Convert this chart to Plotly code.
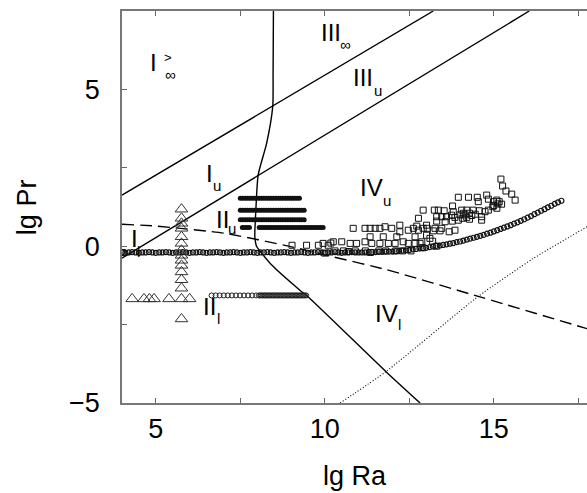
import plotly.graph_objects as go

# ---------------- axis ticks ----------------
ra_tick_vals = [5, 7.5, 10, 12.5, 15, 17.5]
ra_tick_text = ["5", "", "10", "", "15", ""]
pr_tick_vals = [-5, -2.5, 0, 2.5, 5, 7.5]
pr_tick_text = ["\u22125", "", "0", "", "5", ""]

# ---------------- theory lines ----------------
upper_ra = [4.0, 13.21]
upper_pr = [1.63, 7.5]
lower_ra = [4.0, 16.05]
lower_pr = [-0.38, 7.5]
dashed_ra = [4.0, 5.03, 7.05, 9.02, 10.25, 11.83, 14.54, 17.76]
dashed_pr = [0.70, 0.64, 0.41, -0.02, -0.34, -0.75, -1.60, -2.63]
dotted_ra = [10.45, 11.81, 14.54, 16.17, 17.76]
dotted_pr = [-5.0, -4.0, -1.60, -0.39, 0.62]
curve_ra = [8.48, 8.47, 8.46, 8.28, 8.03, 7.96, 7.93, 7.98, 8.08, 8.43, 9.27, 9.51, 11.81, 12.82]
curve_pr = [7.5, 5.5, 4.46, 3.29, 2.28, 1.15, 0.30, 0.0, -0.15, -0.6, -1.41, -1.62, -4.0, -5.0]

# ---------------- data: triangles ----------------
tri_ra = [5.76, 5.76, 5.76, 5.76, 5.76, 5.76, 5.76, 5.76, 5.76, 5.76, 5.76, 5.76, 5.76, 5.76, 5.76,
          4.30, 4.65, 4.81, 4.95, 5.39, 6.00]
tri_pr = [1.18, 0.89, 0.73, 0.57, 0.30, 0.09, -0.13, -0.29, -0.45, -0.61, -0.82, -1.07, -1.34, -1.68, -2.32,
          -1.68, -1.68, -1.68, -1.68, -1.68, -1.68]

# ---------------- data: filled-dot rows ----------------
row1_ra = [7.50, 7.57, 7.64, 7.71, 7.78, 7.85, 7.92, 7.99, 8.06, 8.13, 8.20, 8.27, 8.34, 8.41,
           8.48, 8.55, 8.62, 8.69, 8.76, 8.83, 8.90, 8.97, 9.04, 9.11, 9.18, 9.25]
row1_pr = [1.53, 1.53, 1.53, 1.53, 1.53, 1.53, 1.53, 1.53, 1.53, 1.53, 1.53, 1.53, 1.53,
           1.53, 1.53, 1.53, 1.53, 1.53, 1.53, 1.53, 1.53, 1.53, 1.53, 1.53, 1.53, 1.53]
row2_ra = [7.50, 7.57, 7.64, 7.71, 7.78, 7.85, 7.92, 7.99, 8.06, 8.13, 8.20, 8.27, 8.34, 8.41,
           8.48, 8.55, 8.62, 8.69, 8.76, 8.83, 8.90, 8.97, 9.04, 9.11, 9.18, 9.25, 9.32, 9.39]
row2_pr = [1.15, 1.15, 1.15, 1.15, 1.15, 1.15, 1.15, 1.15, 1.15, 1.15, 1.15, 1.15, 1.15, 1.15,
           1.15, 1.15, 1.15, 1.15, 1.15, 1.15, 1.15, 1.15, 1.15, 1.15, 1.15, 1.15, 1.15, 1.15]
row3_ra = [7.50, 7.57, 7.64, 7.71, 7.78, 7.85, 7.92, 7.99, 8.06, 8.13, 8.20, 8.27, 8.34, 8.41,
           8.48, 8.55, 8.62, 8.69, 8.76, 8.83, 8.90, 8.97, 9.04, 9.11, 9.18, 9.25, 9.32, 9.39]
row3_pr = [0.84, 0.84, 0.84, 0.84, 0.84, 0.84, 0.84, 0.84, 0.84, 0.84, 0.84, 0.84, 0.84, 0.84,
           0.84, 0.84, 0.84, 0.84, 0.84, 0.84, 0.84, 0.84, 0.84, 0.84, 0.84, 0.84, 0.84, 0.84]
row4_ra = [7.56, 7.63, 7.70, 7.77, 8.06, 8.13, 8.20, 8.27, 8.34, 8.41, 8.48, 8.55, 8.62, 8.69,
           8.76, 8.83, 8.90, 8.97, 9.04, 9.11, 9.18, 9.25, 9.32, 9.39, 9.46, 9.53, 9.60, 9.67,
           9.74, 9.81, 9.88, 9.95]
row4_pr = [0.60, 0.60, 0.60, 0.60, 0.60, 0.60, 0.60, 0.60, 0.60, 0.60, 0.60, 0.60, 0.60, 0.60,
           0.60, 0.60, 0.60, 0.60, 0.60, 0.60, 0.60, 0.60, 0.60, 0.60, 0.60, 0.60, 0.60, 0.60,
           0.60, 0.60, 0.60, 0.60]

# ---------------- data: open-circle row at lg Pr ~ -1.6 ----------------
low_ra = [6.65, 6.77, 6.89, 7.01, 7.13, 7.25, 7.37, 7.49, 7.61, 7.73, 7.85, 7.97, 8.05, 8.13,
          8.21, 8.29, 8.37, 8.45, 8.53, 8.61, 8.69, 8.77, 8.85, 8.93, 9.01, 9.09, 9.17, 9.25,
          9.33, 9.41, 8.09, 8.17, 8.25, 8.33, 8.41, 8.49, 8.57, 8.65, 8.73, 8.81, 8.89, 8.97,
          9.05, 9.13, 9.21, 9.29, 9.37, 9.45]
low_pr = [-1.57, -1.57, -1.57, -1.57, -1.57, -1.57, -1.57, -1.57, -1.57, -1.57, -1.57, -1.57,
          -1.57, -1.57, -1.57, -1.57, -1.57, -1.57, -1.57, -1.57, -1.57, -1.57, -1.57, -1.57,
          -1.57, -1.57, -1.57, -1.57, -1.57, -1.57, -1.57, -1.57, -1.57, -1.57, -1.57, -1.57,
          -1.57, -1.57, -1.57, -1.57, -1.57, -1.57, -1.57, -1.57, -1.57, -1.57, -1.57, -1.57]

# ---------------- data: open-circle chain ----------------
chain_ra = [4.0, 4.1, 4.2, 4.3, 4.4, 4.5, 4.6, 4.7, 4.8, 4.9, 5.0, 5.1, 5.2, 5.3, 5.4, 5.5, 5.6,
            5.7, 5.8, 5.9, 6.0, 6.1, 6.2, 6.3, 6.4, 6.5, 6.6, 6.7, 6.8, 6.9, 7.0, 7.1, 7.2, 7.3,
            7.4, 7.5, 7.6, 7.7, 7.8, 7.9, 8.0, 8.1, 8.2, 8.3, 8.4, 8.5, 8.6, 8.7, 8.8, 8.9, 9.0,
            9.1, 9.2, 9.3, 9.4, 9.5, 9.6, 9.7, 9.8, 9.9, 10.0, 10.1, 10.2, 10.3, 10.4, 10.5, 10.6,
            10.7, 10.8, 10.9, 11.0,
            11.1, 11.2, 11.3, 11.4, 11.5, 11.6, 11.7, 11.8, 11.9, 12.0, 12.1, 12.2, 12.3, 12.4,
            12.5, 12.6, 12.7, 12.8, 12.9, 13.0, 13.1, 13.2, 13.3, 13.4, 13.5, 13.6, 13.7, 13.8,
            13.9, 14.0, 14.1, 14.2, 14.3, 14.4, 14.5, 14.6, 14.7, 14.8, 14.9, 15.0, 15.1, 15.2,
            15.3, 15.4, 15.5, 15.6, 15.7, 15.8, 15.9, 16.0, 16.1, 16.2, 16.3, 16.4, 16.5, 16.6,
            16.7, 16.8, 16.9, 17.0]
chain_pr = [-0.20, -0.21, -0.20, -0.19, -0.20, -0.21, -0.20, -0.20, -0.19, -0.20, -0.21, -0.20,
            -0.20, -0.19, -0.20, -0.21, -0.20, -0.20, -0.19, -0.20, -0.21, -0.20, -0.20, -0.19,
            -0.20, -0.21, -0.20, -0.20, -0.19, -0.20, -0.21, -0.20, -0.20, -0.19, -0.20, -0.21,
            -0.20, -0.20, -0.19, -0.20, -0.21, -0.20, -0.20, -0.19, -0.20, -0.21, -0.20, -0.20,
            -0.19, -0.20, -0.21, -0.20, -0.20, -0.19, -0.20, -0.21, -0.20, -0.20, -0.19, -0.20,
            -0.21, -0.20, -0.20, -0.19, -0.20, -0.21, -0.20, -0.20, -0.19, -0.20, -0.20,
            -0.20, -0.20, -0.19, -0.19, -0.19, -0.18, -0.18, -0.17, -0.17, -0.17, -0.16, -0.15,
            -0.14, -0.13, -0.12, -0.10, -0.09, -0.07, -0.06, -0.05, -0.03, -0.01, 0.01, 0.02,
            0.04, 0.06, 0.08, 0.10, 0.13, 0.15, 0.18, 0.21, 0.24, 0.27, 0.30, 0.33, 0.36, 0.40,
            0.43, 0.47, 0.51, 0.55, 0.59, 0.63, 0.67, 0.72, 0.76, 0.81, 0.86, 0.91, 0.96, 1.02,
            1.07, 1.13, 1.18, 1.24, 1.29, 1.35, 1.40, 1.45]

# ---------------- data: open squares ----------------
sq_ra = [15.21, 15.26, 15.36, 15.53, 15.63, 13.95, 14.25, 14.51, 14.54, 14.79, 14.84, 14.99, 15.09,
         15.16, 15.23, 14.97, 15.09, 14.84, 14.74, 12.91, 13.24, 13.36, 13.53, 13.78, 13.80, 14.05,
         14.10, 14.20, 14.28, 14.39, 14.57, 13.31, 13.46, 13.60, 13.75, 13.31, 13.56, 13.77, 13.85,
         13.95, 14.08, 14.20, 14.28, 14.64, 14.64, 12.91, 13.03, 13.21, 13.26, 13.41, 13.46, 13.68,
         13.85, 12.87, 13.11, 13.19, 12.77, 13.01, 10.84, 11.19, 11.34, 11.49, 11.63, 11.78, 11.98,
         12.22, 12.22, 12.47, 12.62, 12.72, 12.77, 11.34, 11.73, 12.13, 12.67, 13.01, 10.25, 10.50,
         10.75, 10.94, 11.19, 11.39, 11.63, 11.88, 12.08, 12.32, 12.47, 12.67, 12.82, 10.10, 9.95,
         9.03, 9.46, 9.81, 10.18, 10.00, 10.30, 10.55, 10.70, 10.90, 11.20, 11.35, 11.60, 11.80,
         12.10, 12.30, 12.55, 12.90, 13.30, 14.00, 14.15, 14.35, 14.45, 15.00, 15.12, 4.02]
sq_pr = [2.14, 1.92, 1.76, 1.66, 1.47, 1.56, 1.56, 1.56, 1.42, 1.63, 1.50, 1.42, 1.47,
         1.42, 1.34, 1.26, 1.21, 1.15, 1.10, 1.15, 1.15, 1.15, 1.13, 1.28, 1.10, 1.15,
         1.05, 1.15, 1.05, 1.15, 1.13, 0.94, 0.94, 0.94, 0.99, 0.80, 0.78, 0.80, 0.92,
         0.83, 0.89, 0.92, 0.86, 0.94, 0.83, 0.57, 0.57, 0.49, 0.57, 0.49, 0.57, 0.46,
         0.51, 0.14, 0.25, 0.16, 0.89, 0.67, 0.57, 0.57, 0.57, 0.57, 0.57, 0.62, 0.57,
         0.67, 0.46, 0.51, 0.57, 0.64, 0.51, 0.30, 0.30, 0.30, 0.30, 0.35, 0.14, 0.14,
         0.09, 0.09, 0.14, 0.09, 0.09, 0.09, 0.09, 0.14, 0.09, 0.09, 0.09, 0.03, 0.09,
         0.03, 0.03, 0.03, 0.10, -0.22, -0.15, -0.15, -0.17, -0.15, -0.15, -0.20, -0.15, -0.15,
         -0.15, -0.15, -0.15, -0.05, 0.00, 1.00, 1.00, 0.98, 1.02, 1.30, 1.35, -0.20]

# ---------------- region labels ----------------
label_text = ["I", "III", "III", "IV", "I", "II", "I", "II", "IV"]
label_ra = [4.92, 10.18, 11.14, 11.37, 6.59, 6.97, 4.36, 6.60, 11.83]
label_pr = [5.86, 6.81, 5.38, 1.86, 2.32, 0.84, 0.23, -1.91, -2.13]
sub_text = ["\u221e", "\u221e", "u", "u", "u", "u", "l", "l", "l"]
sub_ra = [5.42, 10.62, 11.58, 11.83, 6.80, 7.25, 4.48, 6.85, 12.22]
sub_pr = [5.46, 6.44, 4.98, 1.47, 1.95, 0.57, -0.18, -2.30, -2.51]
sup_text = [">"]
sup_ra = [5.36]
sup_pr = [6.03]

FONT = "Liberation Sans, Arial, Helvetica, sans-serif"

fig = go.Figure()

line_style = dict(color="black", width=1.4)
fig.add_trace(go.Scatter(x=upper_ra, y=upper_pr, mode="lines", line=line_style))
fig.add_trace(go.Scatter(x=lower_ra, y=lower_pr, mode="lines", line=line_style))
fig.add_trace(go.Scatter(x=curve_ra, y=curve_pr, mode="lines",
                         line=dict(color="black", width=1.4, shape="spline", smoothing=0.6)))
fig.add_trace(go.Scatter(x=dashed_ra, y=dashed_pr, mode="lines",
                         line=dict(color="black", width=1.4, dash="12px,6px", shape="spline", smoothing=0.5)))
fig.add_trace(go.Scatter(x=dotted_ra, y=dotted_pr, mode="lines",
                         line=dict(color="black", width=1.1, dash="1px,2px", shape="spline", smoothing=0.5)))

fig.add_trace(go.Scatter(x=chain_ra, y=chain_pr, mode="markers",
                         marker=dict(symbol="circle-open", size=5, color="#111", line=dict(width=1.2))))
fig.add_trace(go.Scatter(x=low_ra, y=low_pr, mode="markers",
                         marker=dict(symbol="circle-open", size=5, color="#222", line=dict(width=1))))
for rx, ry in [(row1_ra, row1_pr), (row2_ra, row2_pr), (row3_ra, row3_pr), (row4_ra, row4_pr)]:
    fig.add_trace(go.Scatter(x=rx, y=ry, mode="markers",
                             marker=dict(symbol="circle", size=5, color="#111")))
fig.add_trace(go.Scatter(x=sq_ra, y=sq_pr, mode="markers",
                         marker=dict(symbol="square-open", size=6, color="#111", line=dict(width=1))))
fig.add_trace(go.Scatter(x=tri_ra, y=tri_pr, mode="markers",
                         marker=dict(symbol="triangle-up-open", size=11, color="#333", line=dict(width=1))))

annotations = []
for t, x, y in zip(label_text, label_ra, label_pr):
    annotations.append(dict(x=x, y=y, xref="x", yref="y", text=t, showarrow=False,
                            font=dict(family=FONT, size=24, color="black")))
for t, x, y in zip(sub_text, sub_ra, sub_pr):
    annotations.append(dict(x=x, y=y, xref="x", yref="y", text=t, showarrow=False,
                            font=dict(family=FONT, size=15, color="black")))
for t, x, y in zip(sup_text, sup_ra, sup_pr):
    annotations.append(dict(x=x, y=y, xref="x", yref="y", text=t, showarrow=False,
                            font=dict(family=FONT, size=13, color="black")))
annotations.append(dict(x=0.5, y=-0.185, xref="paper", yref="paper", text="lg Ra", showarrow=False,
                        xanchor="center", yanchor="middle",
                        font=dict(family=FONT, size=27, color="black")))
annotations.append(dict(x=-0.204, y=0.5, xref="paper", yref="paper", text="lg Pr", showarrow=False,
                        xanchor="center", yanchor="middle",
                        textangle=-90, font=dict(family=FONT, size=27, color="black")))

fig.update_layout(
    width=587, height=493,
    margin=dict(l=122, r=0, t=11, b=90, autoexpand=False),
    paper_bgcolor="white", plot_bgcolor="white",
    showlegend=False,
    annotations=annotations,
    xaxis=dict(range=[4.0, 17.757], tickmode="array", tickvals=ra_tick_vals, ticktext=ra_tick_text,
               ticks="inside", ticklen=5, tickcolor="#666", tickwidth=1.2,
               showline=True, linecolor="#777", linewidth=1.5, mirror="ticks",
               showgrid=False, zeroline=False, automargin=False,
               tickfont=dict(family=FONT, size=27, color="black"), ticklabelstandoff=1),
    yaxis=dict(range=[-5.0, 7.5], tickmode="array", tickvals=pr_tick_vals, ticktext=pr_tick_text,
               ticks="inside", ticklen=5, tickcolor="#666", tickwidth=1.2,
               showline=True, linecolor="#777", linewidth=1.5, mirror=False,
               showgrid=False, zeroline=False, automargin=False,
               tickfont=dict(family=FONT, size=27, color="black"), ticklabelstandoff=15),
)

fig.write_html("out.html", config={"displayModeBar": False},
               post_script="document.body.style.margin='0';document.body.style.overflow='hidden';")
